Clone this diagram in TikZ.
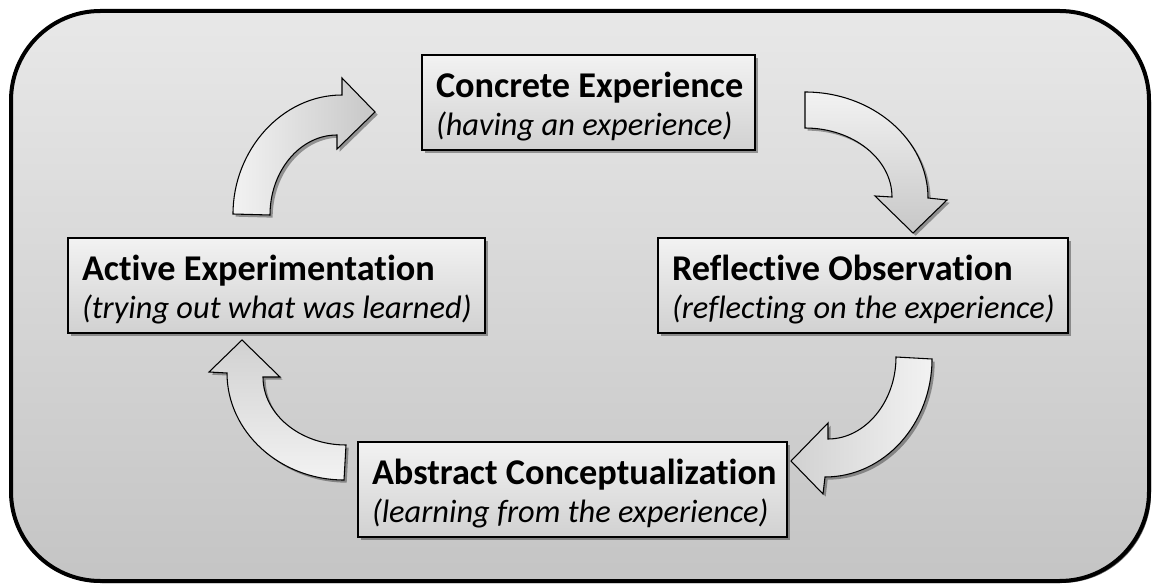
\documentclass[tikz,border=0pt]{standalone}
\usepackage{fontspec}
\setmainfont{Carlito}[Ligatures=NoCommon]
\usetikzlibrary{shadows}
\newcommand{\stagetext}[2]{\mbox{\rule{0pt}{25pt}\spaceskip=0pt\xspaceskip=0pt\relax\bfseries #1}\\\mbox{\spaceskip=0pt\xspaceskip=0pt\relax\fontsize{24.3}{28.5}\selectfont\itshape #2}}
\begin{document}
\begin{tikzpicture}[x=0.75pt,y=-0.75pt]
\useasboundingbox (0,0) rectangle (1154,588);
\tikzset{
  softshadow/.style={drop shadow={shadow xshift=2pt,shadow yshift=-2pt,opacity=.35,fill=black}},
  stagebox/.style={draw=black, line width=1.1pt, top color=gray!10, bottom color=gray!36,
    inner xsep=10.5pt, inner ysep=0pt, align=left, minimum height=71.25pt, softshadow,
    font=\fontsize{27.2}{28.5}\selectfont},
  blockarrow/.style={draw=black, line width=0.8pt, softshadow},
}
% background panel
\draw[line width=3pt, rounded corners=67pt, top color=gray!18, bottom color=gray!46,
  drop shadow={shadow xshift=1.5pt,shadow yshift=-1.5pt,opacity=.6,fill=black}]
  (11,11) rectangle (1149,581);

% stages
\node[stagebox, text width=228.75pt] (ce) at (588.5,102.5)
  {\stagetext{Concrete Experience}{(having an experience)}};
\node[stagebox, text width=286.5pt] (ro) at (863,285.5)
  {\stagetext{Reflective Observation}{(reflecting on the experience)}};
\node[stagebox, text width=300.75pt] (ac) at (572.5,489.5)
  {\stagetext{Abstract Conceptualization}{(learning from the experience)}};
\node[stagebox, text width=291.75pt] (ae) at (276.5,285.5)
  {\stagetext{Active Experimentation}{(trying out what was learned)}};

% block arrows
\draw[blockarrow, left color=gray!10, right color=gray!44]
  (233,214) .. controls (233,150) and (282,95) .. (342,95) -- (342,78) -- (375,112)
  -- (337,149) -- (337,135) .. controls (300,135) and (270,171) .. (270,215) -- cycle;
\draw[blockarrow, top color=gray!10, bottom color=gray!44]
  (805,92) .. controls (873,92) and (928,140) .. (928,198) -- (947,200) -- (913,233)
  -- (875,196) -- (892,197) .. controls (892,159) and (853,128) .. (805,128) -- cycle;
\draw[blockarrow, right color=gray!10, left color=gray!36]
  (896,357) -- (932,359) .. controls (932,424) and (884,477) .. (825,477) -- (823,494)
  -- (791,461) -- (828,423) -- (828,439) .. controls (865,439) and (896,402) .. (896,357) -- cycle;
\draw[blockarrow, bottom color=gray!10, top color=gray!36]
  (344,480) .. controls (280,480) and (227,432) .. (227,373) -- (209,372) -- (242,340)
  -- (280,377) -- (263,377) .. controls (263,414) and (300,445) .. (346,445) -- cycle;
\end{tikzpicture}
\end{document}
